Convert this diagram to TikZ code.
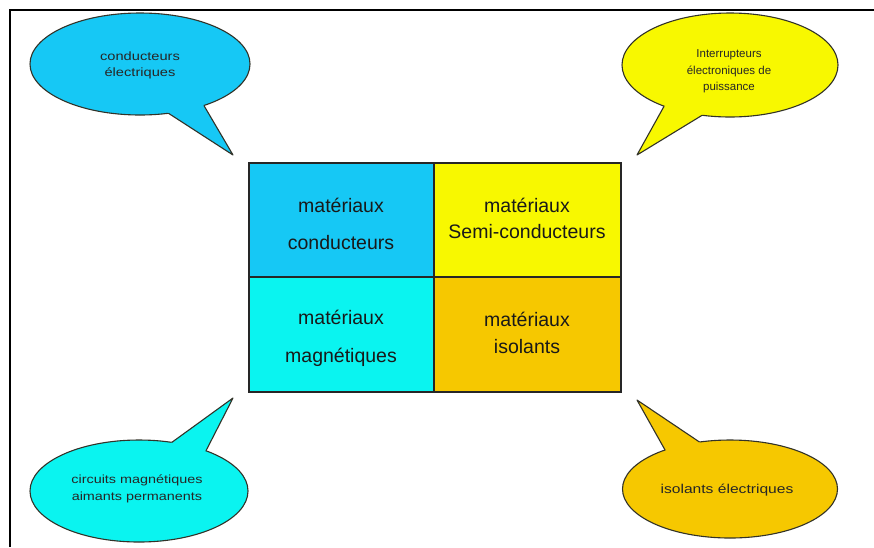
\documentclass[tikz,border=0pt]{standalone}
\usepackage{fontspec}
\setmainfont{Liberation Sans}
\newfontfamily\widesans[FakeStretch=1.22]{Liberation Sans}
\usetikzlibrary{shapes.geometric}
\definecolor{skyC}{RGB}{22,200,245}
\definecolor{cyanC}{RGB}{10,244,240}
\definecolor{yelC}{RGB}{248,248,0}
\definecolor{goldC}{RGB}{246,200,0}
\definecolor{outl}{RGB}{50,50,40}
\begin{document}
\begin{tikzpicture}[x=1pt,y=-1pt,
  bubble/.style={ellipse, draw=outl, line width=1.1pt, inner sep=0pt, outer sep=0pt},
  tailline/.style={draw=outl, line width=1.1pt, line join=round},
  cell/.style={rectangle, draw=black!85, line width=1.6pt, inner sep=0pt, outer sep=0pt, anchor=north west},
  celltext/.style={align=center, inner sep=0pt, text=black!90},
  btext/.style={align=center, inner sep=0pt, text=black!85}]
\useasboundingbox (0,0) rectangle (874,547);
\fill[white] (0,0) rectangle (874,547);
% frame
\draw[line width=2pt, black] (10,547) -- (10,10) -- (874,10);

% speech bubbles
\node[bubble, fill=skyC, minimum width=220pt, minimum height=102pt] (tl) at (140,64) {};
\node[bubble, fill=yelC, minimum width=216pt, minimum height=104pt] (tr) at (730,65) {};
\node[bubble, fill=cyanC, minimum width=218pt, minimum height=102pt] (bl) at (139,491) {};
\node[bubble, fill=goldC, minimum width=215pt, minimum height=98pt] (br) at (730,489) {};

\coordinate (tltip) at (233,155);
\coordinate (trtip) at (637,155);
\coordinate (bltip) at (233,398);
\coordinate (brtip) at (637,400);

\fill[skyC] (tl.-60) -- (tltip) -- (tl.-33) -- (tl.center) -- cycle;
\draw[tailline] (tl.-60) -- (tltip) -- (tl.-33);
\fill[yelC] (tr.-148) -- (trtip) -- (tr.-119) -- (tr.center) -- cycle;
\draw[tailline] (tr.-148) -- (trtip) -- (tr.-119);
\fill[cyanC] (bl.56) -- (bltip) -- (bl.31) -- (bl.center) -- cycle;
\draw[tailline] (bl.56) -- (bltip) -- (bl.31);
\fill[goldC] (br.149) -- (brtip) -- (br.123) -- (br.center) -- cycle;
\draw[tailline] (br.149) -- (brtip) -- (br.123);

\node[btext, font=\fontsize{12}{16}\widesans] (tlt) at (140,65) {conducteurs\\électriques};
\node[btext, font=\fontsize{11.5}{16.5}\selectfont] (trt) at (729,71.5) {Interrupteurs\\électroniques de\\puissance};
\node[btext, font=\fontsize{11.8}{17}\widesans] (blt) at (137,488.5) {circuits magnétiques\\aimants permanents};
\node[btext, font=\fontsize{12.8}{16}\widesans] (brt) at (727,490) {isolants électriques};

% central grid
\node[cell, fill=skyC, minimum width=185pt, minimum height=114pt] (c1) at (249,163) {};
\node[cell, fill=yelC, minimum width=187pt, minimum height=114pt] (c2) at (434,163) {};
\node[cell, fill=cyanC, minimum width=185pt, minimum height=115pt] (c3) at (249,277) {};
\node[cell, fill=goldC, minimum width=187pt, minimum height=115pt] (c4) at (434,277) {};

\node[celltext, font=\fontsize{19.5}{37}\selectfont] (t1) at (341,223.5) {matériaux\\conducteurs};
\node[celltext, font=\fontsize{19.5}{26}\selectfont] (t2) at (527,218) {matériaux\\Semi-conducteurs};
\node[celltext, font=\fontsize{19.5}{38}\selectfont] (t3) at (341,338) {matériaux\\magnétiques};
\node[celltext, font=\fontsize{19.5}{27}\selectfont] (t4) at (527,332.5) {matériaux\\isolants};
\end{tikzpicture}
\end{document}
